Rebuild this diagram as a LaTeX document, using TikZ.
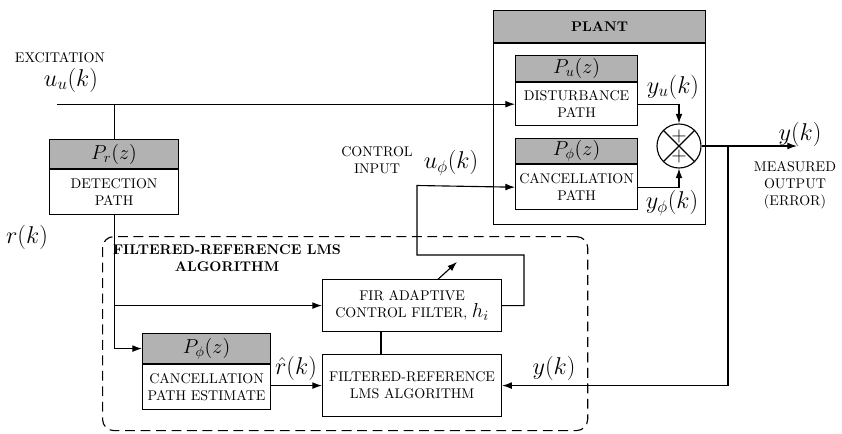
\documentclass[tikz,border=0pt]{standalone}
\usepackage{amsmath}
\usetikzlibrary{arrows.meta,positioning,calc}

\begin{document}
\begin{tikzpicture}[x=0.025cm, y=-0.025cm, line width=0.8pt,
  hdr/.style={rectangle, draw, fill=gray!60, anchor=north west, inner sep=0pt, font=\Large},
  box/.style={rectangle, draw, fill=white, anchor=north west, inner sep=0pt, align=center, font=\normalsize},
  arr/.style={-{Latex[length=2.4mm,width=1.7mm]}},
  lbl/.style={font=\LARGE},
  txt/.style={align=center, font=\normalsize}
]
  \useasboundingbox (0,0) rectangle (842,434);

  % plant
  \node[hdr, minimum width=5.3cm, minimum height=0.8cm, font=\normalsize\bfseries] (planthd) at (493,10) {PLANT};
  \node[box, minimum width=5.3cm, minimum height=4.525cm, below=0pt of planthd] (plant) {};

  \node[hdr, minimum width=3.05cm, minimum height=0.65cm] (disthd) at (515,55) {$P_u(z)$};
  \node[box, minimum width=3.05cm, minimum height=1.075cm, below=0pt of disthd] (dist) {DISTURBANCE\\PATH};

  \node[hdr, minimum width=3.05cm, minimum height=0.625cm] (canchd) at (515,138) {$P_\phi(z)$};
  \node[box, minimum width=3.05cm, minimum height=1.125cm, below=0pt of canchd] (canc) {CANCELLATION\\PATH};

  \node[circle, draw, fill=white, minimum size=1.1cm, inner sep=0pt,
    path picture={\draw (path picture bounding box.north west) -- (path picture bounding box.south east)
                        (path picture bounding box.north east) -- (path picture bounding box.south west);}] (sum) at (679,146) {};
  \node[font=\Large, inner sep=0pt] (plus1) at ($(sum.center)+(0,-10)$) {$+$};
  \node[font=\Large, inner sep=0pt] (plus2) at ($(sum.center)+(0,10)$) {$+$};

  % detection path
  \node[hdr, minimum width=3.225cm, minimum height=0.725cm] (dethd) at (49,139) {$P_r(z)$};
  \node[box, minimum width=3.225cm, minimum height=1.125cm, below=0pt of dethd] (det) {DETECTION\\PATH};

  % filtered-reference LMS part
  \node[box, draw, dashed, dash pattern=on 7pt off 4pt, fill=none, rounded corners=8pt,
    minimum width=12.125cm, minimum height=4.85cm] (lmsbox) at (102,236) {};
  \node[txt, font=\normalsize\bfseries] (lmstitle) at (227,258) {FILTERED-REFERENCE LMS\\ALGORITHM};

  \node[box, minimum width=4.475cm, minimum height=1.3cm] (fir) at (322,279) {FIR ADAPTIVE\\CONTROL FILTER, {\Large$h_i$}};
  \node[box, minimum width=4.475cm, minimum height=1.55cm] (fr) at (322,354) {FILTERED-REFERENCE\\LMS ALGORITHM};

  \node[hdr, minimum width=3.2cm, minimum height=0.75cm] (esthd) at (142,333) {$P_\phi(z)$};
  \node[box, minimum width=3.2cm, minimum height=1.125cm, below=0pt of esthd] (est) {CANCELLATION\\PATH ESTIMATE};

  % texts
  \node[txt] (exc) at (60,58) {EXCITATION};
  \node[lbl] (uu) at (71,80) {$u_u(k)$};
  \node[lbl] (rk) at (27,237) {$r(k)$};
  \node[txt] (ctlin) at (377,160) {CONTROL\\INPUT};
  \node[lbl] (uphi) at (451,163) {$u_\phi(k)$};
  \node[lbl] (yu) at (673,87) {$y_u(k)$};
  \node[lbl] (yphi) at (672,203) {$y_\phi(k)$};
  \node[lbl] (yk) at (800,134) {$y(k)$};
  \node[txt] (meas) at (795,185) {MEASURED\\OUTPUT\\(ERROR)};
  \node[lbl] (yk2) at (554,368) {$y(k)$};
  \node[lbl, inner sep=1pt] (rhat) at (296,368) {$\hat{r}(k)$};

  \coordinate (uin) at (57,0);
  \coordinate (yout) at (797,0);
  \coordinate (ybr) at (728,0);
  \coordinate (adj0) at (381,331);
  \coordinate (adj1) at (457,262);

  % connectors
  \draw[arr] (uin |- dist.west) -- (dist.west);
  \draw (dethd.north |- dist.west) -- (dethd.north);
  \draw[arr] (det.south) |- (esthd.west);
  \draw[arr] (det.south |- fir.west) -- (fir.west);
  \draw[arr] (est.east |- fr.west) -- (fr.west);
  \draw (fr.north -| adj0) -- (adj0);
  \draw[arr] ($(adj0)!0.75!(adj1)$) -- (adj1);
  \draw[arr] (fir.east) -| (524,255) -| (417,185.5) -- (canc.west);
  \draw[arr] (dist.east) -| (sum.north);
  \draw[arr] (canc.east) -| (sum.south);
  \draw[arr] (sum.east) -- (sum.east -| yout);
  \draw[arr] (sum.east -| ybr) |- (fr.east);
\end{tikzpicture}
\end{document}
